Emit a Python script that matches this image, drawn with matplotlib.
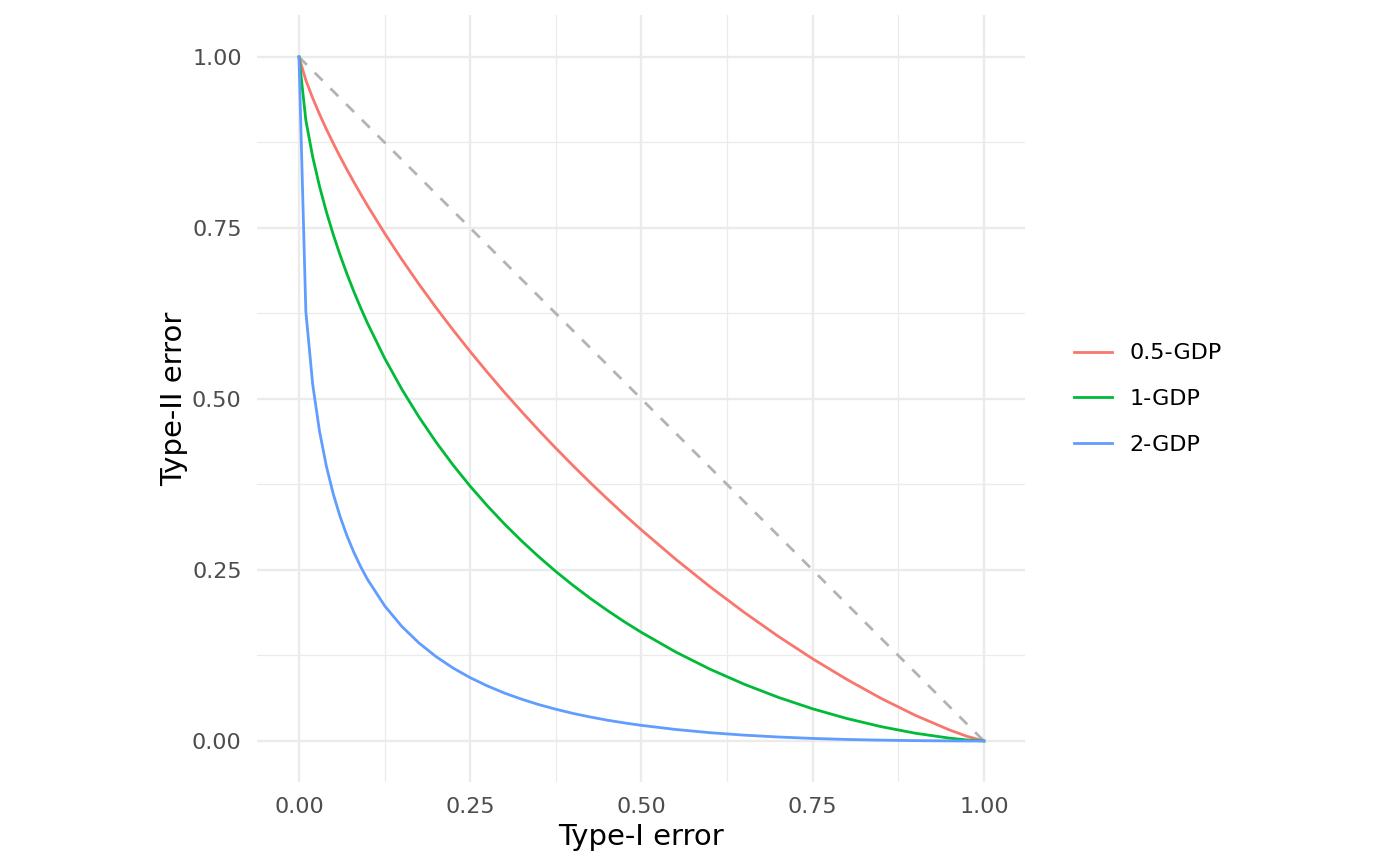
import matplotlib
matplotlib.use("Agg")
import matplotlib.pyplot as plt
from matplotlib.lines import Line2D

# Type-I error grid (x) and Type-II error readings (y) for each curve
type1 = [0.0, 0.01, 0.02, 0.03, 0.04, 0.05, 0.06, 0.07, 0.08, 0.09, 0.10,
         0.125, 0.15, 0.175, 0.20, 0.225, 0.25, 0.275, 0.30, 0.325, 0.35,
         0.375, 0.40, 0.425, 0.45, 0.475, 0.50,
         0.55, 0.60, 0.65, 0.70, 0.75, 0.80, 0.85, 0.90, 0.95, 0.975, 1.0]

gdp_05 = [1.0, 0.9661, 0.9399, 0.9163, 0.8945, 0.8739, 0.8542, 0.8354, 0.8173, 0.7998, 0.7828,
          0.7423, 0.7042, 0.6681, 0.6337, 0.6008, 0.5693, 0.5390, 0.5097, 0.4816, 0.4543,
          0.4280, 0.4026, 0.3779, 0.3541, 0.3309, 0.3085,
          0.2657, 0.2256, 0.1880, 0.1528, 0.1201, 0.0899, 0.0622, 0.0374, 0.0160, 0.0069, 0.0]

gdp_1 = [1.0, 0.9076, 0.8540, 0.8108, 0.7736, 0.7405, 0.7105, 0.6829, 0.6573, 0.6334, 0.6109,
         0.5597, 0.5145, 0.4739, 0.4371, 0.4034, 0.3724, 0.3438, 0.3172, 0.2925, 0.2694,
         0.2478, 0.2276, 0.2087, 0.1910, 0.1743, 0.1587,
         0.1301, 0.1050, 0.0830, 0.0637, 0.0470, 0.0328, 0.0209, 0.0113, 0.0041, 0.0015, 0.0]

gdp_2 = [1.0, 0.6279, 0.5214, 0.4526, 0.4016, 0.3613, 0.3281, 0.3001, 0.2760, 0.2549, 0.2363,
         0.1977, 0.1676, 0.1434, 0.1234, 0.1066, 0.0925, 0.0805, 0.0700, 0.0611, 0.0532,
         0.0464, 0.0403, 0.0351, 0.0304, 0.0264, 0.0228,
         0.0168, 0.0121, 0.0085, 0.0058, 0.0037, 0.0022, 0.0012, 0.0005, 0.0001, 0.0, 0.0]

labels = ["0.5-GDP", "1-GDP", "2-GDP"]
colors = ["#F8766D", "#00BA38", "#619CFF"]
ticks = [0.0, 0.25, 0.5, 0.75, 1.0]
minor = [0.125, 0.375, 0.625, 0.875]

fig = plt.figure(figsize=(14, 8.66), dpi=100, facecolor="white")
ax = fig.add_axes([257 / 1400, 84 / 866, 768 / 1400, 767 / 866])
ax.set_facecolor("white")

# grid (theme_minimal style)
for v in minor:
    ax.axvline(v, color="#EBEBEB", lw=0.9, zorder=0)
    ax.axhline(v, color="#EBEBEB", lw=0.9, zorder=0)
for v in ticks:
    ax.axvline(v, color="#EBEBEB", lw=1.7, zorder=0)
    ax.axhline(v, color="#EBEBEB", lw=1.7, zorder=0)

# diagonal reference
ax.plot([0, 1], [1, 0], color="#B3B3B3", lw=2.0, ls=(0, (4, 4)), zorder=1)

for ys, c in zip([gdp_05, gdp_1, gdp_2], colors):
    ax.plot(type1, ys, color=c, lw=2.0, zorder=2)

ax.set_xlim(-0.0613, 1.06)
ax.set_ylim(-0.06, 1.0614)
ax.set_xticks(ticks)
ax.set_yticks(ticks)
ax.set_xticklabels([f"{t:.2f}" for t in ticks])
ax.set_yticklabels([f"{t:.2f}" for t in ticks])
ax.tick_params(length=0, labelsize=16, labelcolor="#4D4D4D", pad=11)
for s in ax.spines.values():
    s.set_visible(False)

ax.set_xlabel("Type-I error", fontsize=21, labelpad=4)
ax.set_ylabel("Type-II error", fontsize=21, labelpad=3)

handles = [Line2D([0], [0], color=c, lw=2.0) for c in colors]
fig.legend(handles, labels, loc="center left", bbox_to_anchor=(1054 / 1400, 1 - 399 / 866),
           frameon=False, fontsize=16, handlelength=1.7, handletextpad=0.8,
           labelspacing=1.15)

fig.savefig("out.png", dpi=100, facecolor="white")
